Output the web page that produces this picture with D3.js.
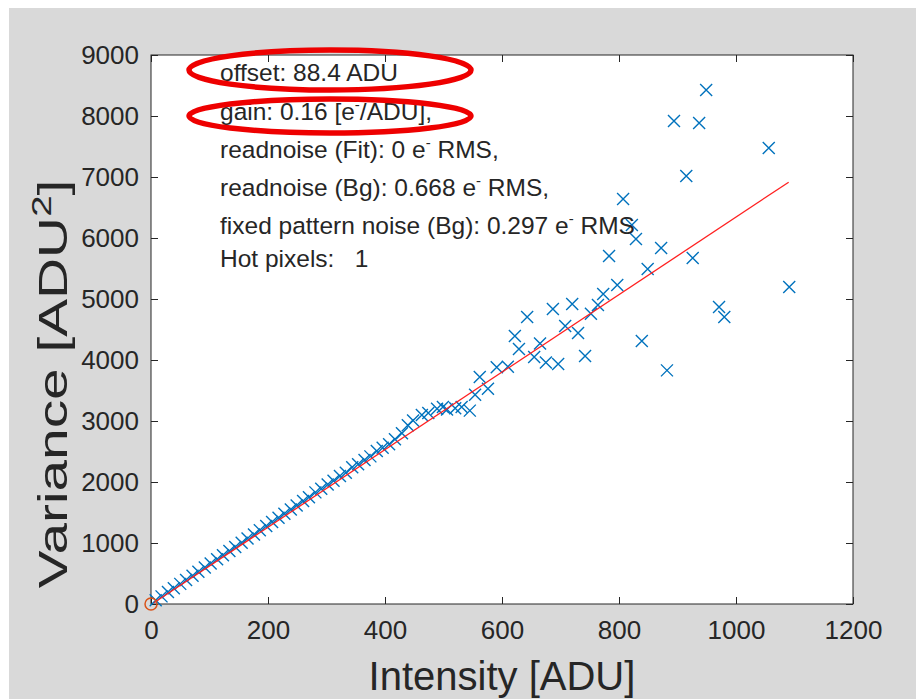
<!DOCTYPE html>
<html>
<head>
<meta charset="utf-8">
<script src="https://cdn.jsdelivr.net/npm/d3@7"></script>
<style>
  html, body { margin: 0; padding: 0; background: #ffffff; }
  svg { display: block; }
  text { font-family: "Liberation Sans", Arial, Helvetica, sans-serif; fill: #262626; }
</style>
</head>
<body>
<svg id="chart" width="916" height="699"></svg>
<script>
// ---- data ----
const intensity = [8, 18, 29, 39, 50, 60, 71, 81, 92, 102, 113, 123, 134, 144, 155, 165, 176, 186, 197, 207,
  218, 228, 239, 249, 260, 270, 281, 291, 302, 312, 323, 333, 344, 354, 365, 375, 386, 396, 407, 417,
  429, 439, 448, 463, 474, 489, 499, 506, 520, 531, 545, 554, 562, 576, 591, 610,
  622, 629, 643, 655, 665, 675, 696, 687, 708, 720, 730, 742, 752, 764, 773, 797, 783, 807, 822, 829,
  849, 872, 839, 882, 894, 937, 949, 915, 1056, 926, 971, 980, 1091];
const variance = [60, 125, 195, 260, 330, 395, 465, 530, 600, 665, 735, 800, 870, 935, 1005, 1075, 1140, 1210, 1280, 1345,
  1415, 1480, 1550, 1615, 1690, 1750, 1830, 1890, 1960, 2020, 2100, 2150, 2240, 2290, 2360, 2420, 2510, 2560, 2620, 2700,
  2800, 2930, 3010, 3100, 3130, 3200, 3230, 3190, 3210, 3230, 3170, 3430, 3720, 3530, 3880, 3890,
  4393, 4180, 4705, 4049, 4270, 3960, 3934, 4836, 4557, 4918, 4443, 4066, 4760, 4902, 5082, 5229, 5705, 6639, 6213, 5984,
  5492, 5836, 4311, 3830, 7918, 7885, 8426, 7016, 7475, 5672, 4869, 4705, 5197];
const fitIntensity = [5, 1090];
const fitVariance = [20, 6915];
const offsetPoint = [0, 0];
const xTicks = [0, 200, 400, 600, 800, 1000, 1200];
const yTicks = [0, 1000, 2000, 3000, 4000, 5000, 6000, 7000, 8000, 9000];
const annotationLines = [
  ["offset: 88.4 ADU"],
  ["gain: 0.16 [e", "-", "/ADU],"],
  ["readnoise (Fit): 0 e", "-", " RMS,"],
  ["readnoise (Bg): 0.668 e", "-", " RMS,"],
  ["fixed pattern noise (Bg): 0.297 e", "-", " RMS"],
  ["Hot pixels:   1"]
];

// ---- layout ----
const svg = d3.select("#chart");
const W = 916, H = 699;
const plot = { left: 151, right: 853, top: 55, bottom: 604 };

svg.append("rect").attr("x", 9).attr("y", 8).attr("width", W - 9).attr("height", H - 8).attr("fill", "#d9d9d9");
svg.append("rect").attr("x", plot.left).attr("y", plot.top)
  .attr("width", plot.right - plot.left).attr("height", plot.bottom - plot.top).attr("fill", "#ffffff");

const x = d3.scaleLinear().domain([0, 1200]).range([plot.left, plot.right]);
const y = d3.scaleLinear().domain([0, 9000]).range([plot.bottom, plot.top]);

// axes
const tickLen = 7;
const axisColor = "#262626";
function styleAxis(g, showText) {
  g.select(".domain").remove();
  g.selectAll("line").attr("stroke", axisColor).attr("stroke-width", 1);
  g.selectAll("text").attr("font-size", 26).attr("fill", "#262626")
    .style("font-family", "'Liberation Sans', Arial, sans-serif");
  if (!showText) g.selectAll("text").remove();
}
svg.append("g").attr("transform", `translate(0,${plot.bottom})`)
  .call(d3.axisBottom(x).tickValues(xTicks).tickSize(-tickLen).tickPadding(17).tickFormat(d3.format("d")))
  .call(g => styleAxis(g, true));
svg.append("g").attr("transform", `translate(0,${plot.top})`)
  .call(d3.axisTop(x).tickValues(xTicks).tickSize(-tickLen))
  .call(g => styleAxis(g, false));
svg.append("g").attr("transform", `translate(${plot.left},0)`)
  .call(d3.axisLeft(y).tickValues(yTicks).tickSize(-tickLen).tickPadding(12).tickFormat(d3.format("d")))
  .call(g => styleAxis(g, true));
svg.append("g").attr("transform", `translate(${plot.right},0)`)
  .call(d3.axisRight(y).tickValues(yTicks).tickSize(-tickLen))
  .call(g => styleAxis(g, false));

// box
svg.append("rect").attr("x", plot.left).attr("y", plot.top)
  .attr("width", plot.right - plot.left).attr("height", plot.bottom - plot.top)
  .attr("fill", "none").attr("stroke", axisColor).attr("stroke-width", 1);

// data markers (x shaped)
const points = intensity.map((d, i) => [d, variance[i]]);
const ms = 6;
const mk = svg.append("g").attr("stroke", "#0072BD").attr("stroke-width", 1.4).attr("fill", "none");
mk.selectAll("path").data(points).join("path")
  .attr("d", d => {
    const px = x(d[0]), py = y(d[1]);
    return `M${px - ms},${py - ms}L${px + ms},${py + ms}M${px - ms},${py + ms}L${px + ms},${py - ms}`;
  });

// fit line
const fitData = fitIntensity.map((d, i) => [d, fitVariance[i]]);
svg.append("path").datum(fitData)
  .attr("d", d3.line().x(d => x(d[0])).y(d => y(d[1])))
  .attr("stroke", "#ff2020").attr("stroke-width", 1.3).attr("fill", "none");

// offset circle
svg.append("circle").attr("cx", x(offsetPoint[0])).attr("cy", y(offsetPoint[1])).attr("r", 6)
  .attr("fill", "none").attr("stroke", "#D95319").attr("stroke-width", 1.5);

// annotation text
const baselines = [81, 120, 158, 196, 234, 267];
annotationLines.forEach((parts, i) => {
  const t = svg.append("text").attr("x", 220).attr("y", baselines[i])
    .attr("font-size", 24.5).attr("fill", "#1a1a1a").style("white-space", "pre");
  parts.forEach((p, j) => {
    const ts = t.append("tspan").text(p);
    if (parts.length === 3 && j === 1) ts.attr("font-size", 15).attr("dy", -10);
    if (parts.length === 3 && j === 2) ts.attr("dy", 10);
  });
});

// red ellipses
svg.append("ellipse").attr("cx", 330).attr("cy", 70).attr("rx", 141).attr("ry", 20)
  .attr("fill", "none").attr("stroke", "#ee0000").attr("stroke-width", 5.5);
svg.append("ellipse").attr("cx", 330).attr("cy", 116).attr("rx", 141).attr("ry", 17)
  .attr("fill", "none").attr("stroke", "#ee0000").attr("stroke-width", 5.5);

// axis titles
svg.append("text").attr("x", (plot.left + plot.right) / 2).attr("y", 690)
  .attr("text-anchor", "middle").attr("font-size", 40).text("Intensity [ADU]");
const yl = svg.append("text").attr("transform", `translate(67,384) rotate(-90) scale(1.42,1.03)`)
  .attr("text-anchor", "middle").attr("font-size", 40);
yl.append("tspan").text("Variance [ADU");
yl.append("tspan").text("2").attr("font-size", 27).attr("dy", -16);
yl.append("tspan").text("]").attr("dy", 16);
</script>
</body>
</html>
